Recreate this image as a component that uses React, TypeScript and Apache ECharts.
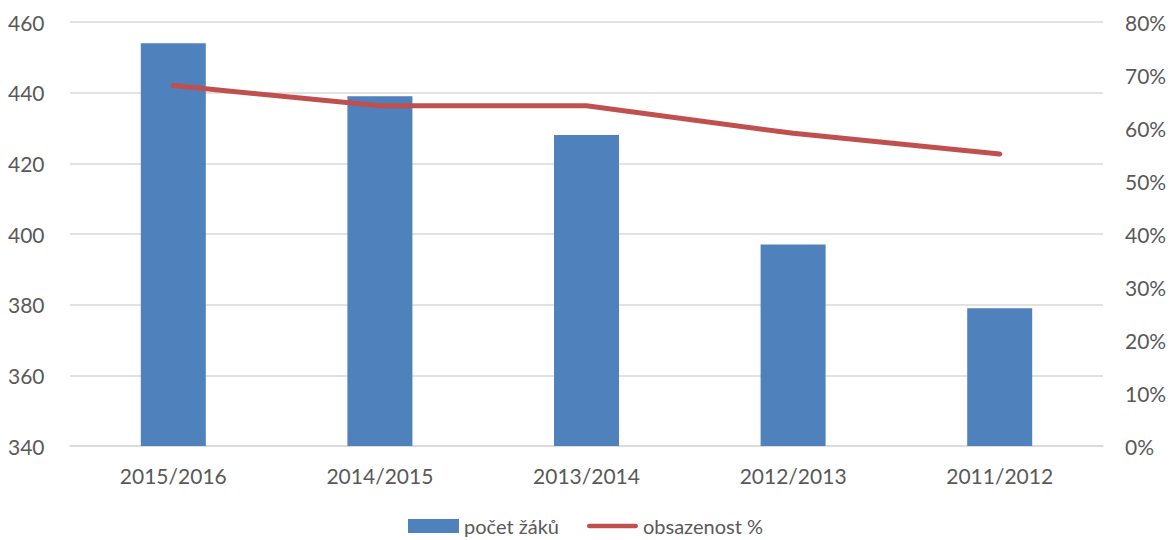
import React, { useEffect, useRef } from "react";
import * as echarts from "echarts";

const categories = ["2015/2016", "2014/2015", "2013/2014", "2012/2013", "2011/2012"];
const pocetZaku = [454, 439, 428, 397, 379];
const obsazenost = [0.68, 0.642, 0.642, 0.59, 0.551];

const FONT = "Lato";
const TXT = "#595959";
const FS = 21;

export default function App() {
  const ref = useRef<HTMLDivElement>(null);
  useEffect(() => {
    const chart = echarts.init(ref.current!, undefined, { renderer: "svg" });
    chart.setOption({
      animation: false,
      textStyle: { fontFamily: FONT },
      grid: { left: 70, right: 68, top: 22, bottom: 94 },
      legend: {
        top: 514,
        left: "center",
        padding: 0,
        itemWidth: 51,
        itemHeight: 14,
        itemGap: 28,
        symbolKeepAspect: true,
        textStyle: { fontSize: 20, lineHeight: 24, color: TXT, fontFamily: FONT },
        data: [
          { name: "počet žáků", icon: "rect" },
          { name: "obsazenost %", icon: "path://M2.5,0 L53.5,0 A2.5,2.5 0 0 1 53.5,5 L2.5,5 A2.5,2.5 0 0 1 2.5,0 Z" },
        ],
      },
      xAxis: {
        type: "category",
        data: categories,
        axisLine: { lineStyle: { color: "#D9D9D9", width: 1.5 } },
        axisTick: { show: false },
        axisLabel: { fontSize: FS, color: TXT, margin: 19, fontFamily: FONT },
      },
      yAxis: [
        {
          type: "value",
          min: 340,
          max: 460,
          interval: 20,
          axisLabel: { fontSize: FS, color: TXT, margin: 62, align: "left", fontFamily: FONT },
          splitLine: { lineStyle: { color: "#D9D9D9", width: 1.5 } },
          axisLine: { show: false },
          axisTick: { show: false },
        },
        {
          type: "value",
          min: 0,
          max: 0.8,
          interval: 0.1,
          position: "right",
          axisLabel: {
            fontSize: FS,
            color: TXT,
            margin: 22,
            fontFamily: FONT,
            formatter: (v: number) => Math.round(v * 100) + "%",
          },
          splitLine: { show: false },
          axisLine: { show: false },
          axisTick: { show: false },
        },
      ],
      series: [
        {
          name: "počet žáků",
          type: "bar",
          data: pocetZaku,
          barWidth: 65,
          itemStyle: { color: "#4F81BD" },
          yAxisIndex: 0,
        },
        {
          name: "obsazenost %",
          type: "line",
          data: obsazenost,
          yAxisIndex: 1,
          symbol: "none",
          lineStyle: { color: "#C0504D", width: 5, cap: "round" },
          itemStyle: { color: "#C0504D" },
        },
      ],
    });
    return () => chart.dispose();
  }, []);
  return (
    <div
      ref={ref}
      style={{ position: "absolute", left: 0, top: 0, width: 1171, height: 540, background: "#fff" }}
    />
  );
}
